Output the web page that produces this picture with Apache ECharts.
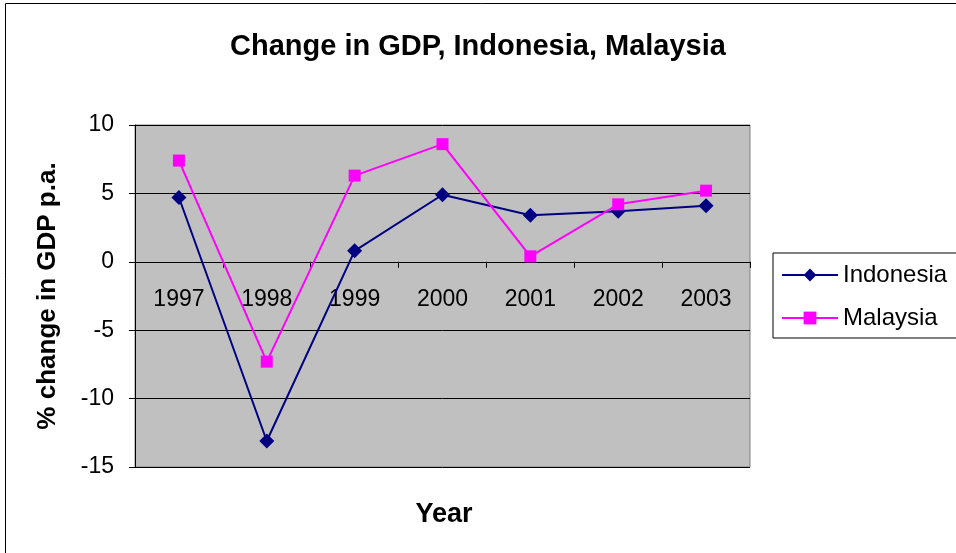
<!DOCTYPE html>
<html>
<head>
<meta charset="utf-8">
<script src="https://cdn.jsdelivr.net/npm/echarts@6/dist/echarts.min.js"></script>
<style>
  html, body { margin: 0; padding: 0; background: #fff; }
  #line { width: 956px; height: 553px; }
</style>
</head>
<body>
<div id="line"></div>
<script>
// 数据
const years = ['1997', '1998', '1999', '2000', '2001', '2002', '2003']
const indonesia = [4.7, -13.1, 0.8, 4.9, 3.4, 3.7, 4.1]
const malaysia = [7.4, -7.3, 6.3, 8.6, 0.4, 4.2, 5.2]

let myChart = echarts.init(document.getElementById('line'))
const font = 'Liberation Sans, Arial, sans-serif'

let opt = {
  animation: false,
  textStyle: { fontFamily: font },
  // 标题
  title: [
    {
      text: 'Change in GDP, Indonesia, Malaysia',
      left: 'center',
      top: 27,
      textStyle: { fontSize: 29, fontWeight: 'bold', color: '#000', fontFamily: font }
    },
    {
      text: 'Year',
      left: 439,
      top: 496,
      textAlign: 'center',
      textStyle: { fontSize: 27, fontWeight: 'bold', color: '#000', fontFamily: font }
    }
  ],
  // 外框
  graphic: [{
    type: 'rect',
    left: 3,
    top: 1,
    shape: { width: 1000, height: 600 },
    style: { fill: 'none', stroke: '#000', lineWidth: 1 },
    silent: true
  }],
  // 图例
  legend: {
    orient: 'vertical',
    left: 773,
    top: 253,
    itemWidth: 56,
    itemHeight: 16,
    itemGap: 19,
    padding: [10, 40, 8, 8],
    borderColor: '#000',
    borderWidth: 1,
    textStyle: { fontSize: 24, color: '#000', fontFamily: font },
    data: ['Indonesia', 'Malaysia']
  },
  grid: {
    left: 135,
    right: 206,
    top: 125,
    bottom: 86,
    show: true,
    backgroundColor: '#C0C0C0',
    borderColor: '#808080',
    borderWidth: 1
  },
  // x轴（放在 0 线上）
  xAxis: {
    type: 'category',
    data: years,
    boundaryGap: true,
    offset: -205.2,
    axisLine: { onZero: false, lineStyle: { color: '#000', width: 1 } },
    axisTick: { show: true, length: 6, lineStyle: { color: '#000' } },
    axisLabel: { fontSize: 23, color: '#000', margin: 26, fontFamily: font }
  },
  // y轴
  yAxis: {
    type: 'value',
    min: -15,
    max: 10,
    interval: 5,
    name: '% change in GDP p.a.',
    nameLocation: 'middle',
    nameGap: 74,
    nameRotate: 90,
    nameTextStyle: { fontSize: 26, fontWeight: 'bold', color: '#000', fontFamily: font },
    axisLine: { show: true, lineStyle: { color: '#000', width: 1 } },
    axisTick: { show: true, length: 6, lineStyle: { color: '#000' } },
    axisLabel: { fontSize: 23, color: '#000', margin: 21, fontFamily: font },
    splitLine: { show: true, lineStyle: { color: '#000', width: 1 } }
  },
  // 数据
  series: [
    {
      name: 'Indonesia',
      type: 'line',
      data: indonesia,
      symbol: 'diamond',
      symbolSize: 15,
      lineStyle: { color: '#000080', width: 2 },
      itemStyle: { color: '#000080' }
    },
    {
      name: 'Malaysia',
      type: 'line',
      data: malaysia,
      symbol: 'rect',
      symbolSize: 12,
      lineStyle: { color: '#FF00FF', width: 2 },
      itemStyle: { color: '#FF00FF' }
    }
  ]
}

myChart.setOption(opt)
</script>
</body>
</html>
